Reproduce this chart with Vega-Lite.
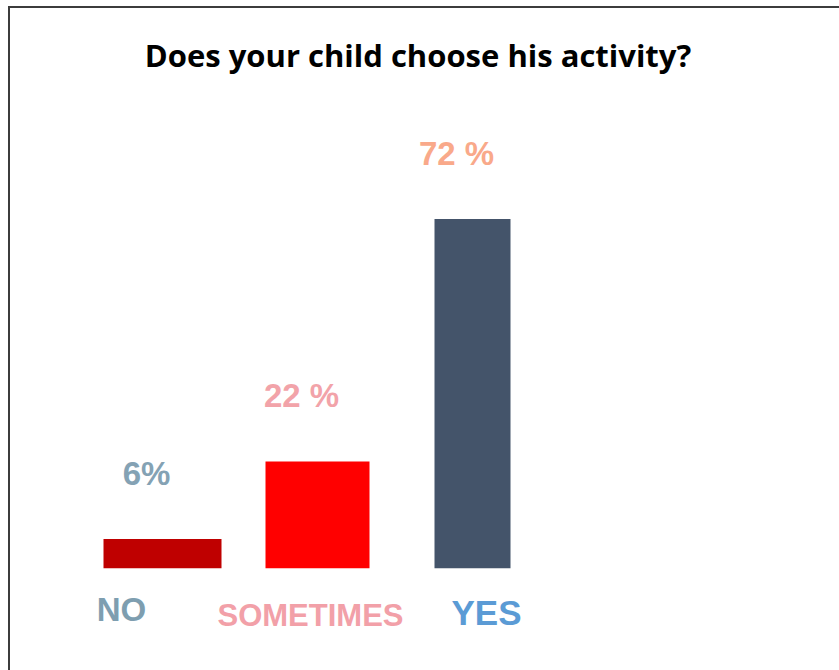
{
  "$schema": "https://vega.github.io/schema/vega-lite/v6.json",
  "autosize": {"type": "none"},
  "padding": {"left": 9, "top": 7, "right": 0, "bottom": 0},
  "width": 830,
  "height": 663,
  "background": "white",
  "config": {"view": {"stroke": "#3c3c3c", "strokeWidth": 2, "strokeDash": [830, 1493, 663]}},
  "title": {"text": "Does your child choose his activity?", "font": "Open Sans", "fontWeight": "bold", "fontSize": 31, "color": "#000000", "anchor": "middle", "frame": "group", "offset": -91, "baseline": "alphabetic", "dx": -6},
  "data": {"values": [
    {"cat": "NO", "value": 6, "label": "6%"},
    {"cat": "SOMETIMES", "value": 22, "label": "22 %"},
    {"cat": "YES", "value": 72, "label": "72 %"}
  ]},
  "encoding": {
    "x": {
      "field": "cat", "type": "nominal", "sort": ["NO", "SOMETIMES", "YES"],
      "scale": {"range": [76, 541], "paddingInner": 0, "paddingOuter": 0},
      "axis": {
        "title": null, "orient": "bottom", "offset": -80, "domain": false, "ticks": false, "grid": false,
        "labelAngle": 0, "labelLimit": 0, "labelOverlap": false, "labelFont": "Liberation Sans", "labelFontWeight": "bold", "labelBaseline": "top",
        "labelFontSize": {"condition": [{"test": "datum.value === 'NO'", "value": 33}, {"test": "datum.value === 'SOMETIMES'", "value": 31}], "value": 35},
        "labelColor": {"condition": [{"test": "datum.value === 'NO'", "value": "#7e9eb0"}, {"test": "datum.value === 'SOMETIMES'", "value": "#f2a0a8"}], "value": "#5b9bd5"},
        "labelOffset": {"condition": [{"test": "datum.value === 'NO'", "value": -41}, {"test": "datum.value === 'SOMETIMES'", "value": -7}], "value": 14},
        "labelPadding": {"condition": [{"test": "datum.value === 'NO'", "value": 4}, {"test": "datum.value === 'SOMETIMES'", "value": 11}], "value": 6}
      }
    }
  },
  "layer": [
    {
      "mark": {"type": "bar"},
      "encoding": {
        "y": {"field": "value", "type": "quantitative", "scale": {"domain": [-21, 115.7], "nice": false, "zero": false}, "axis": null},
        "y2": {"datum": 0},
        "size": {"condition": [{"test": "datum.cat === 'NO'", "value": 118}, {"test": "datum.cat === 'SOMETIMES'", "value": 104}], "value": 76},
        "color": {"field": "cat", "type": "nominal", "scale": {"domain": ["NO", "SOMETIMES", "YES"], "range": ["#bf0000", "#ff0000", "#44546a"]}, "legend": null}
      }
    },
    {
      "mark": {"type": "text", "font": "Liberation Sans", "fontWeight": "bold", "fontSize": 33, "baseline": "alphabetic", "dx": -16, "dy": -54},
      "encoding": {
        "y": {"field": "value", "type": "quantitative"},
        "text": {"field": "label"},
        "color": {"condition": [{"test": "datum.cat === 'NO'", "value": "#84a2b4"}, {"test": "datum.cat === 'SOMETIMES'", "value": "#f2a3a9"}], "value": "#f9a98a"}
      }
    }
  ]
}
